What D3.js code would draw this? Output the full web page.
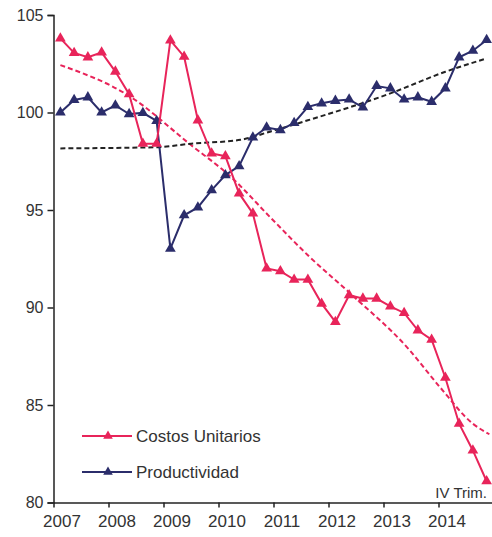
<!DOCTYPE html>
<html>
<head>
<meta charset="utf-8">
<script src="https://cdn.jsdelivr.net/npm/d3@7"></script>
<style>
  html, body { margin: 0; padding: 0; background: #fff; }
  svg { display: block; font-family: "Liberation Sans", Arial, sans-serif; }
</style>
</head>
<body>
<svg id="chart" width="492" height="537"></svg>
<script>
// ---- Data (quarterly, 2007-I to 2014-IV) ----
const years = [2007, 2008, 2009, 2010, 2011, 2012, 2013, 2014];
const quarterNames = ["I", "II", "III", "IV"];
const yTicks = [80, 85, 90, 95, 100, 105];

const costosUnitarios = [
  103.8, 103.06, 102.83, 103.08,
  102.1, 100.94, 98.4, 98.4,
  103.7, 102.86, 99.6, 97.9,
  97.76, 95.85, 94.82, 92.0,
  91.86, 91.43, 91.43, 90.2,
  89.26, 90.63, 90.46, 90.46,
  90.06, 89.72, 88.83, 88.35,
  86.4, 84.04, 82.67, 81.09
];
const productividad = [
  100.0, 100.64, 100.78, 100.0,
  100.36, 99.92, 99.98, 99.57,
  93.02, 94.73, 95.13, 96.02,
  96.79, 97.25, 98.72, 99.23,
  99.1, 99.47, 100.29, 100.47,
  100.6, 100.67, 100.26, 101.36,
  101.24, 100.67, 100.78, 100.55,
  101.24, 102.83, 103.17, 103.72
];
// Trend lines (dashed), read at quarter positions
const trendCostosQ = [0, 5, 9.5, 12.4, 15.3, 18, 21.1, 25.2, 27.6, 30, 31.2];
const trendCostos  = [102.43, 100.85, 98.33, 96.7, 94.6, 92.68, 90.71, 87.97, 85.92, 84.04, 83.5];
const trendProdQ = [0, 7, 9.5, 13.1, 15.3, 18, 24, 28, 31];
const trendProd  = [98.16, 98.22, 98.4, 98.6, 99.03, 99.6, 100.98, 102.09, 102.77];

const labels = ["Costos Unitarios", "Productividad"];
const colors = ["#e8245a", "#2b2d6b"];
const trendColors = ["#e8245a", "#222222"];

// ---- Layout ----
const svg = d3.select("#chart");
const x = d3.scaleLinear().domain([2007, 2015]).range([53.5, 493.5]);
const y = d3.scaleLinear().domain([80, 105]).range([502.5, 15]);
const qx = q => x(years[0] + (q + 0.5) / 4);

// Y axis
const yAxis = svg.append("g")
  .attr("transform", `translate(${x(2007)},0)`)
  .call(d3.axisLeft(y).tickValues(yTicks).tickSize(6).tickPadding(4));
yAxis.select(".domain").attr("stroke", "#222").attr("stroke-width", 1.5);
yAxis.selectAll(".tick line").attr("stroke", "#222").attr("stroke-width", 1.5);
yAxis.selectAll(".tick text").attr("fill", "#333").style("font-size", "16px")
  .style("font-family", "Liberation Sans, Arial, sans-serif");

// X axis
const xAxis = svg.append("g")
  .attr("transform", `translate(0,${y(80)})`)
  .call(d3.axisBottom(x).tickValues(years).tickFormat(d3.format("d")).tickSize(5).tickPadding(7).tickSizeOuter(0));
xAxis.select(".domain").attr("stroke", "#222").attr("stroke-width", 1.5);
xAxis.selectAll(".tick line").attr("stroke", "#222").attr("stroke-width", 1.5);
xAxis.selectAll(".tick text").attr("fill", "#333").attr("dx", 8).style("font-size", "17px")
  .style("font-family", "Liberation Sans, Arial, sans-serif");

// Trend lines
const trendLine = d3.line().x(d => qx(d[0])).y(d => y(d[1])).curve(d3.curveMonotoneX);
[[trendCostosQ, trendCostos], [trendProdQ, trendProd]].forEach(([qs, vs], k) => {
  svg.append("path")
    .datum(qs.map((q, i) => [q, vs[i]]))
    .attr("d", trendLine)
    .attr("fill", "none")
    .attr("stroke", trendColors[k])
    .attr("stroke-width", 2)
    .attr("stroke-dasharray", "5,3");
});

// Series
const line = d3.line().x((d, i) => qx(i)).y(d => y(d));
const tri = d3.symbol().type(d3.symbolTriangle).size(50);
[productividad, costosUnitarios].forEach((series, idx) => {
  const k = idx === 0 ? 1 : 0;
  svg.append("path")
    .datum(series)
    .attr("d", line)
    .attr("fill", "none")
    .attr("stroke", colors[k])
    .attr("stroke-width", 2);
  svg.append("g").selectAll("path")
    .data(series)
    .join("path")
    .attr("d", tri)
    .attr("transform", (d, i) => `translate(${qx(i)},${y(d)})`)
    .attr("fill", colors[k]);
});

// Legend
const legendY = [436, 472];
labels.forEach((lab, k) => {
  const g = svg.append("g");
  g.append("line").attr("x1", 82).attr("x2", 132).attr("y1", legendY[k]).attr("y2", legendY[k])
    .attr("stroke", colors[k]).attr("stroke-width", 2);
  g.append("path").attr("d", d3.symbol().type(d3.symbolTriangle).size(40))
    .attr("transform", `translate(108,${legendY[k]})`).attr("fill", colors[k]);
  g.append("text").attr("x", 136).attr("y", legendY[k] + 6)
    .attr("fill", "#333").style("font-size", "17px").text(lab);
});

// Note
svg.append("text").attr("x", 487).attr("y", 498).attr("text-anchor", "end")
  .attr("fill", "#333").style("font-size", "15px").text("IV Trim.");
</script>
</body>
</html>
